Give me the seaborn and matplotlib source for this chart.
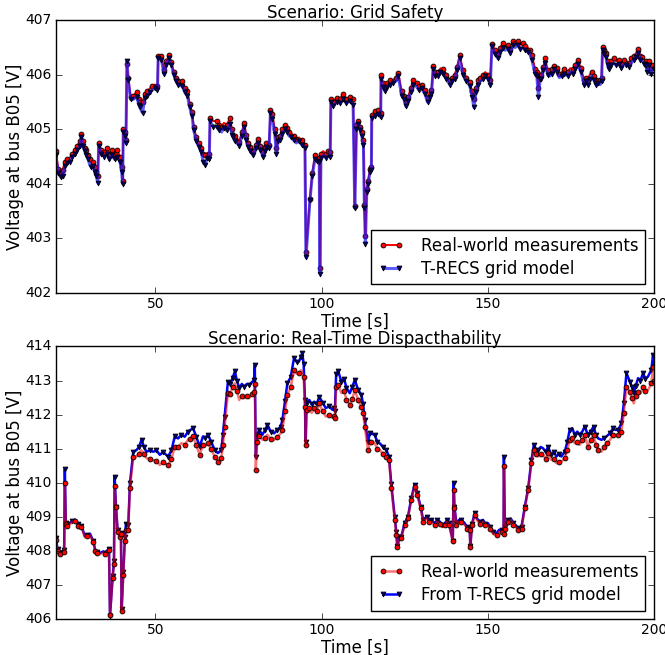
import numpy as np
import pandas as pd
import matplotlib
matplotlib.use("Agg")
import matplotlib.pyplot as plt
import seaborn as sns

# --- top panel: Grid Safety ---
t_top = [20.0, 20.7, 21.5, 22.0, 22.7, 23.5, 24.2, 25.0, 25.7, 26.5, 27.2, 27.7, 28.2, 28.7, 29.2,
         29.7, 30.2, 30.7, 31.2, 31.7, 32.2, 32.6, 32.9, 33.7, 34.5, 35.3, 36.1, 36.9, 37.7, 38.5,
         39.3, 39.8, 40.1, 40.3, 40.8, 41.1, 41.4, 41.8, 42.5, 43.3, 44.3, 45.0, 45.3, 46.1, 46.8,
         47.5, 48.3, 49.0, 49.8, 50.6, 50.8, 51.8, 52.5, 53.3, 54.0, 54.8, 55.5, 56.2, 56.8, 57.5,
         58.1, 58.8, 59.6, 60.3, 61.0, 61.5, 62.3, 63.1, 63.8, 64.4, 64.9, 65.6, 66.2, 66.4, 67.4,
         68.4, 69.2, 69.9, 70.6, 71.4, 72.4, 73.0, 73.4, 73.9, 74.5, 75.2, 76.0, 76.7, 77.3, 77.9,
         78.6, 79.4, 80.2, 80.9, 81.6, 82.4, 83.0, 83.4, 84.2, 84.6, 85.2, 85.9, 86.4, 86.9, 87.4,
         88.2, 88.9, 89.6, 90.2, 90.9, 91.6, 92.4, 93.2, 94.0, 94.5, 95.0, 95.3, 96.5, 97.2, 98.0,
         98.7, 99.3, 99.5, 99.8, 100.5, 101.2, 102.0, 102.6, 102.8, 103.5, 104.5, 105.5, 106.5, 107.5, 108.5,
         109.5, 110.0, 110.5, 111.1, 111.6, 112.1, 112.6, 112.9, 113.2, 113.6, 114.0, 114.6, 115.0, 115.1, 116.1,
         117.1, 117.8, 117.9, 118.5, 119.1, 119.8, 120.6, 121.6, 122.3, 123.1, 124.1, 124.8, 125.4, 126.1, 126.8,
         127.6, 128.6, 129.3, 130.1, 131.1, 131.9, 132.5, 133.1, 133.6, 134.3, 135.1, 135.8, 136.6, 137.6, 138.6,
         139.3, 140.1, 140.8, 141.6, 142.6, 143.6, 144.6, 145.3, 145.9, 146.5, 147.1, 147.8, 148.6, 149.3, 150.1,
         150.8, 151.3, 152.2, 153.1, 153.8, 154.6, 155.3, 156.1, 156.8, 157.6, 158.3, 159.1, 159.8, 160.6, 161.3,
         162.1, 162.7, 163.3, 164.3, 164.8, 165.3, 165.8, 166.1, 166.8, 167.3, 168.1, 168.8, 169.4, 170.1, 170.8,
         171.6, 172.3, 173.1, 174.1, 174.8, 175.6, 176.3, 177.1, 178.1, 179.1, 179.6, 180.1, 180.7, 181.3, 182.0,
         182.6, 183.3, 183.9, 184.3, 184.6, 185.1, 185.6, 186.1, 186.6, 187.2, 187.9, 188.7, 189.6, 190.3, 191.1,
         191.8, 192.6, 193.3, 194.1, 194.7, 195.3, 196.0, 196.6, 197.1, 197.6, 198.1, 198.6, 199.1, 199.6, 200.0]

meas_top = [404.60, 404.28, 404.22, 404.25, 404.40, 404.45, 404.48, 404.55, 404.62, 404.70, 404.78, 404.92, 404.78, 404.65, 404.62,
            404.52, 404.45, 404.38, 404.40, 404.30, 404.22, 404.15, 404.75, 404.62, 404.58, 404.65, 404.55, 404.62, 404.55, 404.62,
            404.50, 404.30, 404.05, 405.00, 404.95, 404.80, 406.20, 405.95, 405.60, 405.62, 405.68, 405.55, 405.50, 405.50, 405.65,
            405.70, 405.75, 405.80, 405.82, 405.80, 406.35, 406.35, 406.08, 406.25, 406.36, 406.24, 406.05, 405.95, 405.88, 405.85,
            405.88, 405.75, 405.70, 405.47, 405.32, 405.05, 404.85, 404.75, 404.66, 404.55, 404.52, 404.57, 404.55, 405.20, 405.15,
            405.16, 405.08, 405.05, 405.12, 405.08, 405.20, 405.00, 404.93, 404.87, 404.85, 404.77, 404.95, 405.12, 404.90, 404.75,
            404.68, 404.60, 404.72, 404.83, 404.70, 404.58, 404.68, 404.75, 404.72, 405.35, 405.28, 405.00, 404.65, 404.85, 404.88,
            405.00, 405.07, 405.02, 404.95, 404.93, 404.88, 404.83, 404.85, 404.80, 404.78, 404.72, 402.75, 403.72, 404.20, 404.52,
            404.50, 404.48, 402.45, 404.55, 404.60, 404.55, 404.60, 404.58, 405.55, 405.50, 405.58, 405.55, 405.65, 405.55, 405.60,
            405.55, 403.60, 405.07, 405.16, 405.05, 404.95, 404.80, 403.62, 403.05, 403.90, 404.06, 404.28, 404.30, 405.26, 405.33,
            405.35, 405.30, 405.99, 405.85, 405.77, 405.85, 405.90, 405.90, 405.95, 406.04, 405.70, 405.62, 405.50, 405.60, 405.75,
            405.90, 405.85, 405.80, 405.82, 405.72, 405.57, 405.68, 405.72, 406.17, 406.05, 406.05, 406.12, 406.10, 406.00, 405.90,
            405.95, 406.00, 406.15, 406.36, 406.08, 405.95, 405.87, 405.70, 405.55, 405.75, 405.90, 405.95, 406.00, 406.05, 406.00,
            405.90, 406.57, 406.45, 406.39, 406.50, 406.58, 406.52, 406.55, 406.48, 406.62, 406.58, 406.62, 406.55, 406.58, 406.52,
            406.50, 406.45, 406.36, 406.11, 406.05, 405.75, 406.00, 406.00, 406.15, 406.30, 406.08, 406.05, 406.10, 406.17, 406.12,
            406.02, 406.05, 406.10, 406.05, 406.12, 406.10, 406.18, 406.27, 406.12, 405.90, 405.95, 405.90, 406.00, 406.05, 405.98,
            405.90, 405.92, 405.90, 405.95, 406.51, 406.45, 406.40, 406.25, 406.17, 406.25, 406.30, 406.25, 406.28, 406.20, 406.28,
            406.25, 406.22, 406.30, 406.35, 406.40, 406.47, 406.35, 406.32, 406.28, 406.25, 406.17, 406.25, 406.12, 406.18, 406.17]

model_top = [404.52, 404.20, 404.12, 404.15, 404.32, 404.38, 404.40, 404.50, 404.55, 404.62, 404.70, 404.85, 404.70, 404.60, 404.52,
             404.45, 404.35, 404.30, 404.32, 404.22, 404.15, 404.02, 404.70, 404.55, 404.50, 404.55, 404.45, 404.52, 404.45, 404.50,
             404.40, 404.22, 404.00, 404.95, 404.88, 404.75, 406.25, 405.90, 405.55, 405.55, 405.60, 405.45, 405.40, 405.30, 405.58,
             405.62, 405.68, 405.72, 405.75, 405.72, 406.30, 406.28, 406.02, 406.18, 406.30, 406.18, 406.00, 405.88, 405.82, 405.80,
             405.80, 405.68, 405.62, 405.40, 405.25, 404.98, 404.78, 404.68, 404.58, 404.40, 404.35, 404.48, 404.45, 405.15, 405.05,
             405.05, 404.98, 404.95, 405.02, 404.98, 405.10, 404.90, 404.85, 404.78, 404.75, 404.70, 404.88, 405.05, 404.80, 404.68,
             404.60, 404.52, 404.65, 404.75, 404.62, 404.50, 404.60, 404.68, 404.65, 405.30, 405.18, 404.92, 404.55, 404.78, 404.80,
             404.92, 405.00, 404.95, 404.88, 404.85, 404.80, 404.75, 404.78, 404.72, 404.70, 404.65, 402.65, 403.70, 404.15, 404.45,
             404.42, 404.40, 402.35, 404.48, 404.52, 404.48, 404.52, 404.50, 405.50, 405.42, 405.50, 405.48, 405.55, 405.48, 405.52,
             405.45, 403.55, 405.00, 405.10, 404.98, 404.88, 404.72, 403.55, 402.90, 403.85, 404.00, 404.22, 404.25, 405.20, 405.25,
             405.28, 405.22, 405.92, 405.78, 405.70, 405.78, 405.82, 405.85, 405.88, 405.98, 405.62, 405.55, 405.42, 405.52, 405.68,
             405.82, 405.78, 405.72, 405.75, 405.65, 405.50, 405.60, 405.65, 406.10, 405.98, 405.98, 406.05, 406.02, 405.92, 405.82,
             405.88, 405.92, 406.08, 406.30, 406.00, 405.88, 405.80, 405.60, 405.40, 405.68, 405.82, 405.88, 405.92, 405.98, 405.92,
             405.82, 406.52, 406.38, 406.30, 406.42, 406.50, 406.45, 406.48, 406.40, 406.55, 406.50, 406.55, 406.48, 406.50, 406.45,
             406.42, 406.38, 406.28, 406.02, 405.98, 405.60, 405.92, 405.92, 406.08, 406.22, 406.00, 405.98, 406.02, 406.10, 406.05,
             405.95, 405.98, 406.02, 405.98, 406.05, 406.02, 406.10, 406.20, 406.05, 405.82, 405.88, 405.82, 405.92, 405.98, 405.90,
             405.82, 405.85, 405.82, 405.88, 406.45, 406.38, 406.32, 406.18, 406.10, 406.18, 406.22, 406.18, 406.20, 406.12, 406.20,
             406.18, 406.15, 406.22, 406.28, 406.32, 406.40, 406.28, 406.25, 406.20, 406.18, 406.05, 406.18, 406.02, 406.10, 406.10]

# --- bottom panel: Real-Time Dispatchability ---
t_bot = [20.0, 20.5, 21.2, 22.0, 22.5, 22.7, 23.0, 23.3, 24.2, 25.0, 25.7, 26.7, 27.7, 28.7, 29.5,
         30.3, 31.3, 31.8, 32.5, 33.3, 34.2, 34.8, 35.8, 36.0, 36.3, 37.1, 37.5, 37.7, 38.1, 38.6,
         39.3, 39.6, 39.8, 40.3, 40.8, 41.1, 41.8, 42.3, 43.3, 44.3, 45.0, 45.8, 46.5, 47.3, 48.3,
         49.3, 50.3, 51.3, 52.3, 53.8, 54.8, 55.8, 56.8, 57.8, 58.8, 59.8, 60.5, 61.3, 62.3, 63.3,
         64.3, 65.0, 65.8, 66.8, 67.8, 68.8, 69.8, 70.3, 70.8, 71.8, 72.5, 73.2, 73.9, 74.5, 75.2,
         76.0, 76.7, 77.5, 78.2, 79.0, 79.7, 79.9, 80.2, 80.6, 81.2, 82.2, 83.0, 83.7, 84.7, 85.7,
         86.7, 87.7, 88.2, 89.0, 89.7, 90.7, 91.7, 92.5, 93.2, 93.8, 94.2, 94.6, 95.0, 95.2, 95.5,
         96.3, 97.0, 97.8, 98.5, 99.3, 100.3, 101.3, 102.3, 103.3, 103.8, 104.0, 104.4, 105.0, 106.0, 106.8,
         107.5, 108.5, 109.2, 110.0, 111.0, 112.0, 112.5, 113.0, 114.0, 114.5, 115.0, 116.0, 116.8, 117.5, 118.5,
         119.5, 120.3, 121.0, 122.0, 122.5, 122.8, 123.5, 124.0, 125.0, 126.0, 127.0, 128.0, 128.8, 129.8, 130.6,
         131.6, 132.3, 133.1, 134.1, 134.8, 135.6, 136.3, 137.1, 137.8, 138.4, 139.5, 139.8, 140.0, 140.6, 141.3,
         142.1, 143.1, 143.8, 144.6, 144.8, 145.3, 146.1, 146.8, 147.6, 148.6, 149.3, 150.1, 150.8, 151.6, 152.7,
         153.5, 154.2, 154.8, 154.9, 155.2, 156.2, 157.0, 157.7, 158.5, 159.2, 160.2, 161.2, 162.2, 163.2, 163.9,
         164.5, 165.2, 166.0, 166.7, 167.5, 168.2, 169.2, 170.0, 170.7, 171.5, 172.2, 173.2, 174.0, 174.7, 175.5,
         176.2, 177.0, 177.7, 178.5, 179.2, 180.2, 181.0, 181.9, 182.6, 183.3, 184.3, 185.0, 185.8, 186.8, 187.8,
         188.5, 189.3, 190.3, 191.0, 191.8, 192.8, 193.5, 194.0, 194.6, 195.3, 196.0, 196.8, 197.5, 198.3, 199.3,
         199.8, 200.0]

meas_bot = [408.33, 408.00, 407.90, 407.95, 407.98, 410.00, 408.80, 408.72, 408.78, 408.85, 408.88, 408.74, 408.70, 408.40, 408.45,
            408.46, 408.25, 408.00, 407.95, 407.90, 407.95, 407.92, 408.00, 408.02, 406.12, 407.20, 407.60, 409.90, 409.30, 408.55,
            408.40, 408.50, 406.22, 407.30, 408.30, 408.62, 408.62, 409.85, 410.75, 410.77, 410.85, 410.95, 410.85, 410.72, 410.70,
            410.66, 410.65, 410.52, 410.60, 410.52, 410.70, 411.06, 411.05, 411.16, 411.12, 411.26, 411.28, 411.36, 411.10, 410.82,
            411.12, 411.08, 411.16, 410.98, 410.77, 410.62, 410.72, 411.10, 411.65, 412.63, 412.60, 412.82, 412.92, 412.70, 412.43,
            412.55, 412.48, 412.55, 412.48, 412.60, 412.67, 412.90, 410.38, 411.20, 411.36, 411.26, 411.30, 411.41, 411.28, 411.26,
            411.35, 411.45, 411.55, 412.10, 412.58, 412.80, 413.31, 413.20, 413.21, 413.30, 413.25, 413.10, 412.23, 411.10, 412.15,
            412.19, 412.05, 412.19, 412.10, 412.33, 412.10, 411.94, 412.00, 411.90, 411.95, 411.90, 412.80, 412.87, 412.63, 412.70,
            412.43, 412.28, 412.45, 412.72, 412.43, 412.23, 412.05, 411.65, 410.96, 411.15, 411.20, 411.16, 411.00, 410.96, 410.85,
            410.77, 410.67, 409.85, 408.92, 408.48, 408.10, 408.35, 408.38, 408.75, 408.95, 409.48, 409.88, 409.65, 409.25, 408.86,
            408.95, 408.85, 408.85, 408.75, 408.85, 408.80, 408.70, 408.75, 408.85, 408.75, 408.28, 409.80, 409.25, 408.75, 408.85,
            408.85, 408.76, 408.65, 408.60, 408.12, 408.75, 409.05, 408.90, 408.80, 408.85, 408.75, 408.75, 408.65, 408.50, 408.46,
            408.56, 408.55, 408.50, 410.50, 408.65, 408.85, 408.90, 408.75, 408.70, 408.60, 408.65, 409.25, 409.78, 410.58, 410.96,
            410.85, 410.77, 410.85, 410.82, 410.70, 410.87, 410.67, 410.70, 410.57, 410.62, 410.62, 410.72, 410.95, 411.26, 411.30,
            411.16, 411.20, 411.11, 411.25, 411.41, 411.06, 411.25, 411.41, 411.10, 410.96, 410.91, 411.05, 411.16, 411.25, 411.41,
            411.38, 411.41, 411.50, 412.05, 412.82, 412.67, 412.48, 412.33, 412.55, 412.67, 412.62, 412.82, 412.70, 412.72, 412.92,
            413.40, 413.00]

model_bot = [408.37, 408.05, 407.95, 408.00, 408.02, 410.40, 408.82, 408.76, 408.82, 408.88, 408.92, 408.78, 408.74, 408.44, 408.48,
             408.50, 408.28, 408.04, 407.98, 407.94, 407.98, 407.95, 408.04, 408.05, 406.08, 407.25, 407.70, 410.18, 409.30, 408.60,
             408.45, 408.52, 406.28, 407.38, 408.40, 408.80, 408.76, 409.98, 410.90, 410.96, 411.05, 411.26, 411.05, 410.91, 410.95,
             410.91, 410.95, 410.82, 410.90, 410.77, 410.95, 411.36, 411.30, 411.41, 411.35, 411.50, 411.55, 411.60, 411.35, 411.06,
             411.36, 411.30, 411.41, 411.20, 410.96, 410.87, 410.96, 411.40, 411.94, 412.97, 412.90, 413.07, 413.27, 413.00, 412.78,
             412.90, 412.82, 412.90, 412.87, 412.95, 413.02, 413.45, 410.75, 411.40, 411.55, 411.41, 411.55, 411.70, 411.50, 411.45,
             411.55, 411.65, 411.84, 412.40, 412.92, 413.10, 413.66, 413.55, 413.56, 413.70, 413.80, 413.50, 412.43, 411.20, 412.35,
             412.43, 412.30, 412.38, 412.30, 412.53, 412.35, 412.19, 412.25, 412.14, 412.20, 412.10, 413.20, 413.27, 412.97, 413.05,
             412.78, 412.63, 412.80, 413.02, 412.73, 412.58, 412.30, 411.85, 411.20, 411.45, 411.45, 411.40, 411.20, 411.16, 411.05,
             410.96, 410.77, 409.95, 409.00, 408.55, 408.15, 408.40, 408.42, 408.81, 409.00, 409.54, 409.94, 409.70, 409.30, 408.91,
             409.00, 408.90, 408.91, 408.81, 408.90, 408.86, 408.75, 408.81, 408.90, 408.81, 408.30, 410.00, 409.30, 408.81, 408.90,
             408.91, 408.81, 408.70, 408.66, 408.15, 408.80, 409.10, 408.95, 408.86, 408.91, 408.80, 408.81, 408.70, 408.56, 408.52,
             408.62, 408.61, 408.55, 410.77, 408.70, 408.91, 408.95, 408.81, 408.75, 408.66, 408.71, 409.30, 409.84, 410.67, 411.11,
             411.00, 410.96, 411.05, 411.01, 410.90, 411.06, 410.81, 410.90, 410.77, 410.85, 410.77, 410.91, 411.20, 411.55, 411.60,
             411.41, 411.50, 411.41, 411.50, 411.65, 411.41, 411.50, 411.65, 411.40, 411.30, 411.26, 411.30, 411.36, 411.45, 411.60,
             411.55, 411.55, 411.75, 412.33, 413.22, 412.97, 412.80, 412.63, 412.85, 413.07, 413.00, 413.22, 413.05, 413.12, 413.32,
             413.75, 413.40]

plt.style.use("classic")
plt.rcParams["font.family"] = ["DejaVu Sans"]
plt.rcParams["axes.formatter.useoffset"] = False

fig = plt.figure(figsize=(6.65, 6.55), dpi=100)
fig.patch.set_facecolor("white")
ax1 = fig.add_axes([0.084, 0.553, 0.899, 0.416])
ax2 = fig.add_axes([0.084, 0.055, 0.899, 0.416])

top = pd.DataFrame({"t": t_top, "meas": meas_top, "model": model_top})
bot = pd.DataFrame({"t": t_bot, "meas": meas_bot, "model": model_bot})

mk = dict(ms=3.5, mew=0.6, mec="k")

# top panel
sns.lineplot(data=top, x="t", y="meas", ax=ax1, color="red", lw=1.4, marker="o", mfc="red",
             markevery=0.008, label="Real-world measurements", **mk)
sns.lineplot(data=top, x="t", y="model", ax=ax1, color="blue", lw=2.2, marker="v", mfc="navy",
             markevery=0.008, label="T-RECS grid model", **mk)
ax1.lines[1].set_color((0.1, 0.1, 1, 0.7))
ax1.lines[1].set_markerfacecolor("navy")
ax1.lines[1].set_markeredgecolor("k")
ax1.set_xlim(20, 200)
ax1.set_ylim(402, 407)
ax1.set_yticks([402, 403, 404, 405, 406, 407])
ax1.set_title("Scenario: Grid Safety", fontsize=12, pad=2)
ax1.set_ylabel("Voltage at bus B05 [V]", fontsize=12, labelpad=1)
ax1.set_xlabel("Time [s]", fontsize=12, labelpad=1)

# bottom panel
sns.lineplot(data=bot, x="t", y="model", ax=ax2, color="blue", lw=1.8, marker="v", mfc="navy",
             markevery=0.012, label="From T-RECS grid model", **mk)
sns.lineplot(data=bot, x="t", y="meas", ax=ax2, color="red", lw=1.8, marker="o", mfc="red",
             markevery=0.012, label="Real-world measurements", **mk)
ax2.lines[1].set_color((1, 0, 0, 0.55))
ax2.lines[1].set_markerfacecolor("red")
ax2.lines[1].set_markeredgecolor("k")
ax2.set_xlim(20, 200)
ax2.set_ylim(406, 414)
ax2.set_yticks(range(406, 415))
ax2.set_title("Scenario: Real-Time Dispacthability", fontsize=12, pad=2)
ax2.set_ylabel("Voltage at bus B05 [V]", fontsize=12, labelpad=1)
ax2.set_xlabel("Time [s]", fontsize=12, labelpad=1)

for ax in (ax1, ax2):
    ax.set_xticks([50, 100, 150, 200])
    ax.tick_params(labelsize=10, direction="in", pad=3, top=True, right=True)
    ax.set_facecolor("white")

leg_kw = dict(loc="lower right", fontsize=12, numpoints=2, handlelength=1.6, handletextpad=1.0,
              borderpad=0.4, labelspacing=0.3, frameon=True, fancybox=False, borderaxespad=0.5)
h1, l1 = ax1.get_legend_handles_labels()
ax1.legend(h1, l1, **leg_kw)
h2, l2 = ax2.get_legend_handles_labels()
ax2.legend([h2[1], h2[0]], [l2[1], l2[0]], **leg_kw)

fig.savefig("out.png", dpi=100, facecolor="white")
